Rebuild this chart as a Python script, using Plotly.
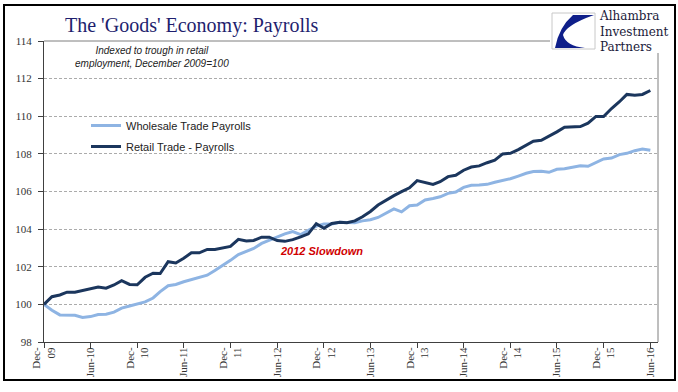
import pandas as pd
import plotly.graph_objects as go

# ---------------- data ----------------
months = pd.date_range("2009-12-01", periods=79, freq="MS")

retail = [100.0, 100.41, 100.5, 100.65, 100.65, 100.74, 100.81, 100.92, 100.86, 101.03,
          101.26, 101.06, 101.04, 101.44, 101.66, 101.64, 102.27, 102.2, 102.45, 102.74,
          102.74, 102.92, 102.92, 103.0, 103.08, 103.46, 103.37, 103.4, 103.57, 103.57,
          103.39, 103.35, 103.44, 103.59, 103.75, 104.29, 104.05, 104.3, 104.37, 104.34,
          104.44, 104.66, 104.94, 105.28, 105.55, 105.78, 105.99, 106.2, 106.58, 106.47,
          106.38, 106.52, 106.79, 106.86, 107.13, 107.3, 107.36, 107.53, 107.66, 108.0,
          108.03, 108.23, 108.46, 108.67, 108.72, 108.92, 109.17, 109.42, 109.42, 109.45,
          109.63, 109.99, 109.99, 110.41, 110.77, 111.16, 111.12, 111.16, 111.37]

wholesale = [100.0, 99.69, 99.44, 99.44, 99.42, 99.3, 99.35, 99.46, 99.48, 99.59,
             99.8, 99.91, 100.02, 100.13, 100.34, 100.68, 100.99, 101.06, 101.2, 101.31,
             101.44, 101.55, 101.8, 102.07, 102.34, 102.65, 102.83, 102.97, 103.24, 103.42,
             103.59, 103.75, 103.87, 103.71, 103.93, 104.16, 104.27, 104.27, 104.36, 104.36,
             104.34, 104.44, 104.5, 104.62, 104.83, 105.08, 104.92, 105.24, 105.28, 105.55,
             105.63, 105.72, 105.9, 105.97, 106.22, 106.33, 106.34, 106.38, 106.49, 106.58,
             106.68, 106.82, 106.97, 107.06, 107.07, 107.02, 107.18, 107.21, 107.29, 107.37,
             107.34, 107.55, 107.73, 107.78, 107.96, 108.03, 108.17, 108.26, 108.19]

tick_dates = ["2009-12-01", "2010-06-01", "2010-12-01", "2011-06-01", "2011-12-01",
              "2012-06-01", "2012-12-01", "2013-06-01", "2013-12-01", "2014-06-01",
              "2014-12-01", "2015-06-01", "2015-12-01", "2016-06-01"]
tick_labels = ["Dec-<br>09", "Jun-10", "Dec-<br>10", "Jun-11", "Dec-<br>11", "Jun-12",
               "Dec-<br>12", "Jun-13", "Dec-<br>13", "Jun-14", "Dec-<br>14", "Jun-15",
               "Dec-<br>15", "Jun-16"]
y_ticks = [98, 100, 102, 104, 106, 108, 110, 112, 114]

# ---------------- layout helpers ----------------
W, H = 678, 392
L, R, T, B = 44, 20, 41, 50
PW, PH = W - L - R, H - T - B


def px(x, y):
    return (x - L) / PW, (H - B - y) / PH


SERIF = "Liberation Serif, Times New Roman, serif"
SANS = "Liberation Sans, Arial, sans-serif"

fig = go.Figure()
fig.add_trace(go.Scatter(x=months, y=wholesale, mode="lines", name="Wholesale Trade Payrolls",
                         line=dict(color="#8EB4E3", width=3), legendgroup="a"))
fig.add_trace(go.Scatter(x=months, y=retail, mode="lines", name="Retail Trade - Payrolls",
                         line=dict(color="#1B365D", width=3), legendgroup="b"))

shapes = []
# plot frame: top & right (gray)
x_end, _ = px(550, 0)
shapes.append(dict(type="line", xref="paper", yref="paper", x0=0, x1=x_end, y0=1, y1=1,
                   line=dict(color="#7F7F7F", width=1)))
_, y_start = px(0, 53)
shapes.append(dict(type="line", xref="paper", yref="paper", x0=1, x1=1, y0=0, y1=y_start,
                   line=dict(color="#7F7F7F", width=1)))
# outer border
bx0, by0 = px(4, 380)
bx1, by1 = px(675, 5)
shapes.append(dict(type="rect", xref="paper", yref="paper", x0=bx0, y0=by0, x1=bx1, y1=by1,
                   line=dict(color="black", width=2)))
# logo box
lx0, ly0 = px(552, 49)
lx1, ly1 = px(595, 13)
shapes.append(dict(type="rect", xref="paper", yref="paper", x0=lx0, y0=ly0, x1=lx1, y1=ly1,
                   line=dict(color="#C8C8C8", width=1), fillcolor="white"))


def P(x, y):
    a, b = px(x, y)
    return f"{a:.5f},{b:.5f}"


logo_path = (f"M{P(573,15)} L{P(594,15)} Q{P(566,25)} {P(563,35)} "
             f"Q{P(566,46)} {P(585,48)} L{P(555,48)} Q{P(559,27)} {P(573,15)} Z")
shapes.append(dict(type="path", xref="paper", yref="paper", path=logo_path,
                   fillcolor="#0F1F8A", line=dict(width=0)))

annotations = []
tx, ty = px(63, 25)
annotations.append(dict(xref="paper", yref="paper", x=tx, y=ty, xanchor="left", yanchor="middle",
                        text="The 'Goods' Economy: Payrolls", showarrow=False,
                        font=dict(family=SERIF, size=20, color="#1E1E6E")))
ax_, ay_ = px(597, 32)
annotations.append(dict(xref="paper", yref="paper", x=ax_, y=ay_, xanchor="left",
                        yanchor="middle", text="Alhambra<br>Investment<br>Partners",
                        showarrow=False, align="left",
                        font=dict(family="DejaVu Serif, serif", size=12, color="#1A1A3A")))
sx, sy = px(152, 57)
annotations.append(dict(xref="paper", yref="paper", x=sx, y=sy, xanchor="center", yanchor="middle",
                        text="Indexed to trough in retail<br>employment, December 2009=100",
                        showarrow=False, align="center",
                        font=dict(family=SANS, size=10, color="#222222", style="italic")))
annotations.append(dict(xref="x", yref="y", x="2012-11-20", y=102.82, xanchor="center",
                        yanchor="middle", text="2012 Slowdown", showarrow=False,
                        font=dict(family=SANS, size=11, color="#D00000", style="italic",
                                  weight="bold")))

lgx, lgy = px(86, 111)
fig.update_layout(
    width=W, height=H,
    margin=dict(l=L, r=R, t=T, b=B),
    paper_bgcolor="white", plot_bgcolor="white",
    showlegend=True,
    legend=dict(x=lgx, y=lgy, xanchor="left", yanchor="top", bgcolor="rgba(0,0,0,0)",
                font=dict(family=SANS, size=11, color="#222222"), tracegroupgap=2),
    shapes=shapes, annotations=annotations,
    xaxis=dict(type="date", range=["2009-12-01", "2016-07-01"], tickvals=tick_dates,
               ticktext=tick_labels, tickangle=-90, showgrid=False, showline=True,
               linecolor="#404040", linewidth=1, ticks="outside", ticklen=5,
               tickcolor="#404040", tickfont=dict(family=SERIF, size=11, color="#333333"),
               zeroline=False, automargin=False, ticklabelstandoff=-5),
    yaxis=dict(range=[98, 114], tickvals=y_ticks, showgrid=True, gridcolor="#ABABAB",
               griddash="3px,2px", gridwidth=1, showline=True, linecolor="#404040",
               linewidth=1, ticks="outside", ticklen=5, tickcolor="#404040",
               tickfont=dict(family=SERIF, size=11, color="#333333"), zeroline=False,
               automargin=False, ticklabelstandoff=4),
)

fig.write_html("out.html", config={"displayModeBar": False},
               post_script="document.body.style.margin='0';")
